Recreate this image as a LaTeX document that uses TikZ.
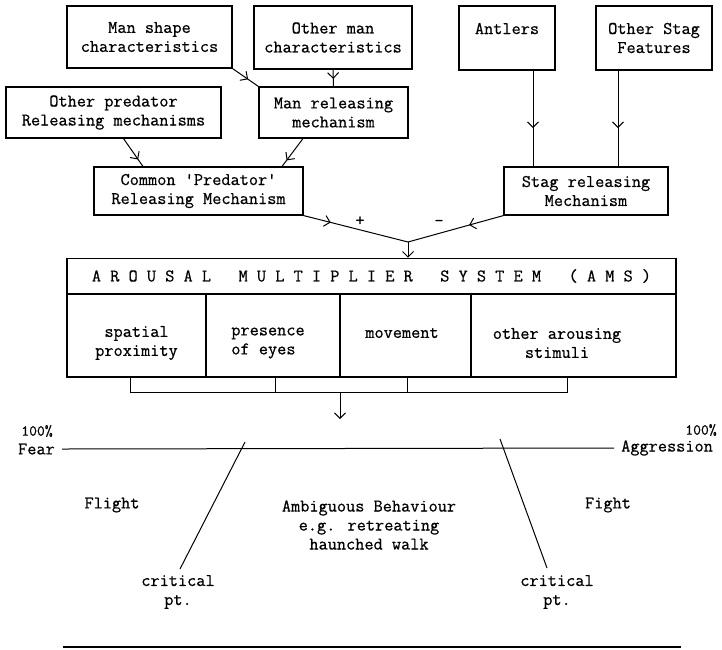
\documentclass[tikz,border=0pt]{standalone}
\usepackage{fontspec}
\newfontfamily\typew{Latin Modern Mono}[FakeBold=0.6]
\usetikzlibrary{arrows.meta,decorations.markings,calc}
\newcommand\mytxt{\typew\fontsize{17.8}{19}\selectfont}
\newcommand\mysmall{\typew\fontsize{15.2}{16}\selectfont}
\tikzset{
  box/.style={draw, line width=1.1pt, align=center, inner sep=0pt, font=\mytxt},
  txt/.style={inner sep=0pt, align=center, font=\mytxt},
  conn/.style={line width=1pt},
  barb/.tip={Straight Barb[length=5.5pt,width=11pt,line width=1pt]},
  midarrow/.style={postaction={decorate}, decoration={markings,
     mark=at position #1 with {\arrow{barb}}}},
}
\begin{document}
\begin{tikzpicture}[x=1pt,y=-1pt]
\useasboundingbox (0,0) rectangle (722,649);
% top boxes
\node[box, minimum width=165pt, minimum height=62pt] (manshape) at (149.5,37) {Man shape\\characteristics};
\node[box, minimum width=158pt, minimum height=63pt] (othman) at (333,37.5) {Other man\\characteristics};
\node[box, minimum width=96pt, minimum height=64pt] (antlers) at (507,38) {Antlers\\\mbox{}};
\node[box, minimum width=116pt, minimum height=64pt] (othstag) at (654,38) {Other Stag\\Features};
\node[box, minimum width=215pt, minimum height=51pt] (othpred) at (113.5,112.5) {Other predator\\Releasing mechanisms};
\node[box, minimum width=149pt, minimum height=51pt] (manrel) at (333.5,112.5) {Man releasing\\mechanism};
\node[box, minimum width=209pt, minimum height=48pt] (common) at (198.5,191) {Common \textquotesingle Predator\textquotesingle\\Releasing Mechanism};
\node[box, minimum width=164pt, minimum height=48pt] (stag) at (586,191) {Stag releasing\\Mechanism};
% connectors
\draw[conn, midarrow=0.6] (manshape.south east) -- (manrel.north west);
\draw[conn, midarrow=0.55] (othman.south) -- (manrel.north);
\draw[conn, midarrow=0.75] ([xshift=10pt]othpred.south) -- ([xshift=-55.5pt]common.north);
\draw[conn, midarrow=0.78] ([xshift=-30.5pt]manrel.south) -- ([xshift=83.5pt]common.north);
\draw[conn, midarrow=0.6] ([xshift=26pt]antlers.south) -- ([xshift=-53pt]stag.north);
\draw[conn, midarrow=0.6] ([xshift=-36pt]othstag.south) -- ([xshift=32pt]stag.north);
% AMS
\node[box, minimum width=609pt, minimum height=35.5pt] (amstitle) at (371.5,276)
  {A~R~O~U~S~A~L~~~M~U~L~T~I~P~L~I~E~R~~~S~Y~S~T~E~M~~~(~A~M~S~)};
\coordinate (junc) at (408,242);
\draw[conn, midarrow=0.26] (common.south east) -- (junc);
\draw[conn, midarrow=0.36] (stag.south west) -- (junc);
\draw[conn, -barb] (junc) -- (junc |- amstitle.north);
\node[txt] (plus) at (360,221) {+};
\node[txt] (minus) at (439,223) {-};
\node[box, minimum width=139pt, minimum height=83pt] (c1) at (136.5,335.5) {};
\node[box, minimum width=134pt, minimum height=83pt] (c2) at (273,335.5) {};
\node[box, minimum width=131pt, minimum height=83pt] (c3) at (405.5,335.5) {};
\node[box, minimum width=205pt, minimum height=83pt] (c4) at (573.5,335.5) {};
\node[txt] (t1) at (136.5,343) {spatial\\proximity};
\node[txt, align=left] (t2) at (268,343) {presence\\of eyes};
\node[txt] (t3) at (402,333) {movement};
\node[txt] (t4) at (557,343) {other arousing\\stimuli};
% bracket
\draw[conn] (130,377) |- (567,392) -- (567,377);
\draw[conn] (275,377) -- (275,392);
\draw[conn] (407,377) -- (407,392);
\coordinate (brk) at (340,392);
\coordinate (arrtip) at (340,419);
\draw[conn, -barb] (brk) -- (arrtip);
% scale
\node[txt, font=\mysmall] (p1) at (37,431) {100\%};
\node[txt, anchor=east] (fear) at (55,449) {Fear};
\node[txt, font=\mysmall] (p2) at (701,430) {100\%};
\node[txt, anchor=west] (aggr) at (621,448) {Aggression};
\draw[conn] ([xshift=7pt]fear.east) -- ([xshift=-7pt]aggr.west);
\coordinate (l1t) at (245,442);
\coordinate (l1b) at (180,569);
\coordinate (l2t) at (500,439);
\coordinate (l2b) at (547,568);
\draw[conn] (l1t) -- (l1b);
\draw[conn] (l2t) -- (l2b);
\node[txt] (flight) at (112,505) {Flight};
\node[txt] (amb) at (369,525) {Ambiguous Behaviour\\e.g. retreating\\haunched walk};
\node[txt] (fight) at (608,505) {Fight};
\node[txt] (crit1) at (178,592) {critical\\pt.};
\node[txt] (crit2) at (557,592) {critical\\pt.};
\coordinate (bl) at (63,647);
\coordinate (br) at (681,647);
\draw[line width=1.8pt] (bl) -- (br);
\end{tikzpicture}
\end{document}
